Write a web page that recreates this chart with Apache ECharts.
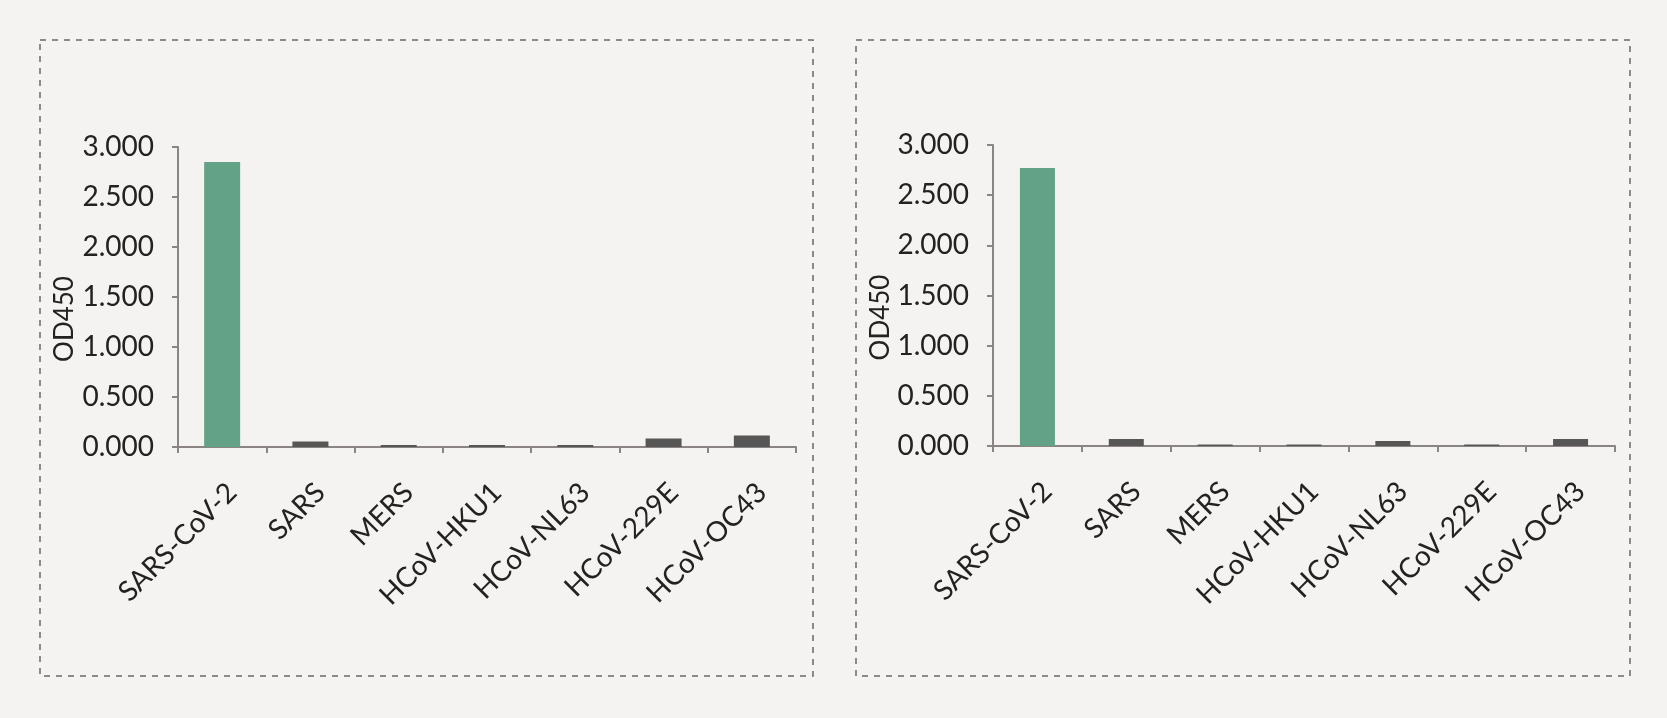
<!DOCTYPE html>
<html>
<head>
<meta charset="utf-8">
<script src="https://cdn.jsdelivr.net/npm/echarts@6/dist/echarts.min.js"></script>
<style>
html,body{margin:0;padding:0;background:#f4f3f1;}
#c{width:1667px;height:718px;}
</style>
</head>
<body>
<div id="c"></div>
<script>
const categories = ['SARS-CoV-2','SARS','MERS','HCoV-HKU1','HCoV-NL63','HCoV-229E','HCoV-OC43'];
const valuesLeft = [2.85, 0.055, 0.02, 0.02, 0.02, 0.085, 0.115];
const valuesRight = [2.77, 0.07, 0.015, 0.015, 0.05, 0.015, 0.07];
const yAxisName = 'OD450';
const yMin = 0, yMax = 3, yStep = 0.5;

const FONT = 'Lato';
const AXIS_COLOR = '#8a8482';
const TEXT_COLOR = '#222222';
const GREEN = '#64a288';
const GREY = '#565656';

function xAxis(gi){
  return {
    type:'category', gridIndex:gi, data:categories,
    axisLine:{lineStyle:{color:AXIS_COLOR,width:2}},
    axisTick:{show:true,length:6,lineStyle:{color:AXIS_COLOR,width:2}},
    axisLabel:{rotate:45,margin:31,verticalAlign:'top',color:TEXT_COLOR,fontFamily:FONT,fontSize:28,interval:0}
  };
}
function yAxis(gi,gap){
  return {
    type:'value', gridIndex:gi, min:yMin, max:yMax, interval:yStep,
    name:yAxisName, nameLocation:'middle', nameGap:gap, nameRotate:90,
    nameTextStyle:{color:TEXT_COLOR,fontFamily:FONT,fontSize:26,padding:[0,44,0,0]},
    axisLine:{show:true,lineStyle:{color:AXIS_COLOR,width:2}},
    axisTick:{show:true,length:6,lineStyle:{color:AXIS_COLOR,width:2}},
    splitLine:{show:false},
    axisLabel:{margin:24,color:TEXT_COLOR,fontFamily:FONT,fontSize:28,
      formatter:v=>v.toFixed(3)}
  };
}
function barSeries(gi,vals,bw){
  return {
    type:'bar', xAxisIndex:gi, yAxisIndex:gi, data:vals, barWidth:bw,
    itemStyle:{color:p=>p.dataIndex===0?GREEN:GREY},
    silent:true
  };
}
const chart = echarts.init(document.getElementById('c'),null,{renderer:'canvas'});
chart.setOption({
  backgroundColor:'#f4f3f1',
  animation:false,
  grid:[
    {left:178,top:147,width:618,height:300},
    {left:993,top:145,width:622,height:301}
  ],
  xAxis:[xAxis(0),xAxis(1)],
  yAxis:[yAxis(0,100),yAxis(1,96)],
  series:[barSeries(0,valuesLeft,36),barSeries(1,valuesRight,35)],
  graphic:[
    {type:'rect',shape:{x:40,y:40,width:773,height:636},
     style:{fill:null,stroke:'#6a6a6a',lineWidth:1.5,lineDash:[6,6]}},
    {type:'rect',shape:{x:856,y:40,width:774,height:636},
     style:{fill:null,stroke:'#6a6a6a',lineWidth:1.5,lineDash:[6,6]}}
  ]
});
</script>
</body>
</html>
